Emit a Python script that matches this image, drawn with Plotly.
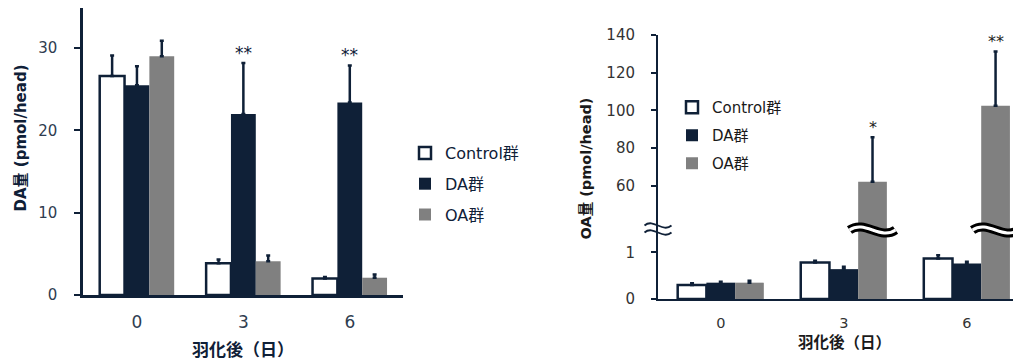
import plotly.graph_objects as go

# ---------------- data ----------------
days = ["0", "3", "6"]
group_names = ["Control群", "DA群", "OA群"]

# Left panel: DA amount (pmol/head)
da_control = [26.6, 3.85, 2.0]
da_control_err = [2.5, 0.45, 0.2]
da_da = [25.5, 22.0, 23.4]
da_da_err = [2.3, 6.2, 4.5]
da_oa = [29.0, 4.1, 2.1]
da_oa_err = [1.9, 0.7, 0.4]
da_sig = ["", "**", "**"]

# Right panel: OA amount (pmol/head)
oa_control = [0.30, 0.78, 0.87]
oa_control_err = [0.04, 0.04, 0.07]
oa_da = [0.35, 0.64, 0.76]
oa_da_err = [0.02, 0.05, 0.04]
oa_oa = [0.35, 62.1, 102.4]
oa_oa_err = [0.04, 23.6, 28.9]
oa_sig = ["", "*", "**"]

da_ticks = [0, 10, 20, 30]
oa_low_ticks = [0, 1]
oa_high_ticks = [60, 80, 100, 120, 140]

# ---------------- style ----------------
OX, OY = 8, 8            # page body offset of the figure
W, H = 1021 - OX, 362 - OY
NAVY = "#0f2037"
GRAY = "#808080"
TICK_L = "#2f3d50"
TICK_R = "#333333"
FONT = "DejaVu Sans, Noto Sans CJK JP, sans-serif"
BARGAP = 0.30


def px(x):
    return (x - OX) / W


def py(y):
    return 1 - (y - OY) / H


fig = go.Figure()

styles = [
    dict(color="white", line=dict(color=NAVY, width=2.5)),
    dict(color=NAVY, line=dict(color=NAVY, width=0)),
    dict(color=GRAY, line=dict(color=GRAY, width=0)),
]

left_vals = [(da_control, da_control_err), (da_da, da_da_err), (da_oa, da_oa_err)]
right_vals = [(oa_control, oa_control_err), (oa_da, oa_da_err), (oa_oa, oa_oa_err)]

for name, st, (v, e) in zip(group_names, styles, left_vals):
    fig.add_trace(go.Bar(
        x=days, y=v, name=name, marker=st, xaxis="x", yaxis="y",
        error_y=dict(type="data", array=e, symmetric=False, arrayminus=[0] * len(e),
                     color=NAVY, thickness=2.5, width=2),
        legend="legend", legendgroup="L" + name, showlegend=True,
    ))

for yax in ["y2", "y3"]:
    for name, st, (v, e) in zip(group_names, styles, right_vals):
        fig.add_trace(go.Bar(
            x=days, y=v, name=name, marker=st, xaxis="x2", yaxis=yax,
            error_y=dict(type="data", array=e, symmetric=False, arrayminus=[0] * len(e),
                         color=NAVY, thickness=2.5, width=2),
            legend="legend2", legendgroup="R" + name, showlegend=(yax == "y2"),
        ))

bar_w = (1 - BARGAP) / 3

# significance marks
for i, s in enumerate(da_sig):
    if s:
        fig.add_annotation(x=i, y=da_da[i] + da_da_err[i], xref="x", yref="y",
                           text=s, showarrow=False, xanchor="center", yanchor="bottom", yshift=-2,
                           font=dict(size=17, color=NAVY, family=FONT))
for i, s in enumerate(oa_sig):
    if s:
        fig.add_annotation(x=i + bar_w, y=oa_oa[i] + oa_oa_err[i], xref="x2", yref="y3",
                           text=s, showarrow=False, xanchor="center", yanchor="bottom", yshift=-2,
                           font=dict(size=16, color="#222222", family=FONT))


# break marks
def wave(cx, cy, w, a):
    x0, x1 = cx - w / 2, cx + w / 2
    return (f"M{x0},{cy} C{cx - w / 6},{cy + a} {cx + w / 6},{cy - a} {x1},{cy}")


BREAK_Y = 229
for dy in (-3.5, 3.5):
    fig.add_shape(type="path", xref="paper", yref="paper",
                  path=wave(px(658), py(BREAK_Y + dy), 27 / W, 0.022),
                  line=dict(color=NAVY, width=1.8))
cat_px = 123.0
for i in (1, 2):
    cx = i + bar_w
    p = wave(cx, py(BREAK_Y + 1), 46 / cat_px, 0.03)
    fig.add_shape(type="path", xref="x2", yref="paper", path=p,
                  line=dict(color="black", width=9))
    fig.add_shape(type="path", xref="x2", yref="paper", path=p,
                  line=dict(color="white", width=3))

# axis titles
ann_common = dict(xref="paper", yref="paper", showarrow=False, xanchor="center", yanchor="middle")
fig.add_annotation(x=px(20), y=py(138.5), text="DA量 (pmol/head)", textangle=-90,
                   font=dict(size=15, color=NAVY, family=FONT, weight="bold"), **ann_common)
fig.add_annotation(x=px(242.5), y=py(350), text="羽化後（日）",
                   font=dict(size=17, color=NAVY, family=FONT, weight="bold"), **ann_common)
fig.add_annotation(x=px(585), y=py(168.5), text="OA量 (pmol/head)", textangle=-90,
                   font=dict(size=14.5, color="#1a1a1a", family=FONT, weight="bold"), **ann_common)
fig.add_annotation(x=px(844), y=py(342), text="羽化後（日）",
                   font=dict(size=15.5, color="#1a1a1a", family=FONT, weight="bold"), **ann_common)

ax_common = dict(automargin=False, showgrid=False, zeroline=False)
fig.update_layout(
    width=W, height=H, autosize=False,
    margin=dict(l=0, r=0, t=0, b=0, pad=0, autoexpand=False),
    paper_bgcolor="white", plot_bgcolor="white",
    barmode="group", bargap=BARGAP, bargroupgap=0,
    font=dict(family=FONT, color=NAVY),
    xaxis=dict(domain=[px(83), px(403)], type="category", range=[-0.507, 2.5],
               anchor="y", showline=True, linecolor=NAVY, linewidth=2.5, ticks="",
               tickfont=dict(size=17, color=TICK_L), ticklabelstandoff=10, **ax_common),
    yaxis=dict(domain=[py(295), py(7 + OY) if False else py(8)], range=[0, 35 * (295 - 8) / (295 - 7)],
               tickvals=da_ticks, anchor="x",
               showline=True, linecolor=NAVY, linewidth=2.5, ticks="outside", ticklen=6,
               tickwidth=2, tickcolor=NAVY,
               tickfont=dict(size=15, color=TICK_L), ticklabelstandoff=14, **ax_common),
    xaxis2=dict(domain=[px(658), 1.0], type="category", range=[-0.51, 2.44],
                anchor="y2", showline=True, linecolor=NAVY, linewidth=2, ticks="",
                tickfont=dict(size=14.5, color=TICK_R), ticklabelstandoff=10, **ax_common),
    yaxis2=dict(domain=[py(299), py(BREAK_Y)], range=[0, 1.5], tickvals=oa_low_ticks,
                anchor="x2", showline=True, linecolor=NAVY, linewidth=2, ticks="outside",
                ticklen=5, tickwidth=2, tickcolor=NAVY,
                tickfont=dict(size=15, color=TICK_R), ticklabelstandoff=13, **ax_common),
    yaxis3=dict(domain=[py(BREAK_Y), py(35)], range=[37, 140], tickvals=oa_high_ticks,
                anchor="x2", showline=True, linecolor=NAVY, linewidth=2, ticks="outside",
                ticklen=5, tickwidth=2, tickcolor=NAVY,
                tickfont=dict(size=15, color=TICK_R), ticklabelstandoff=13, **ax_common),
    legend=dict(x=px(405), y=py(136), xanchor="left", yanchor="top",
                font=dict(size=16, color=NAVY, family=FONT), bgcolor="rgba(0,0,0,0)",
                tracegroupgap=7, itemclick=False),
    legend2=dict(x=px(672), y=py(91), xanchor="left", yanchor="top",
                 font=dict(size=15, color="#1a1a1a", family=FONT), bgcolor="rgba(0,0,0,0)",
                 tracegroupgap=5.5, itemclick=False),
)

fig.write_html("out.html")
